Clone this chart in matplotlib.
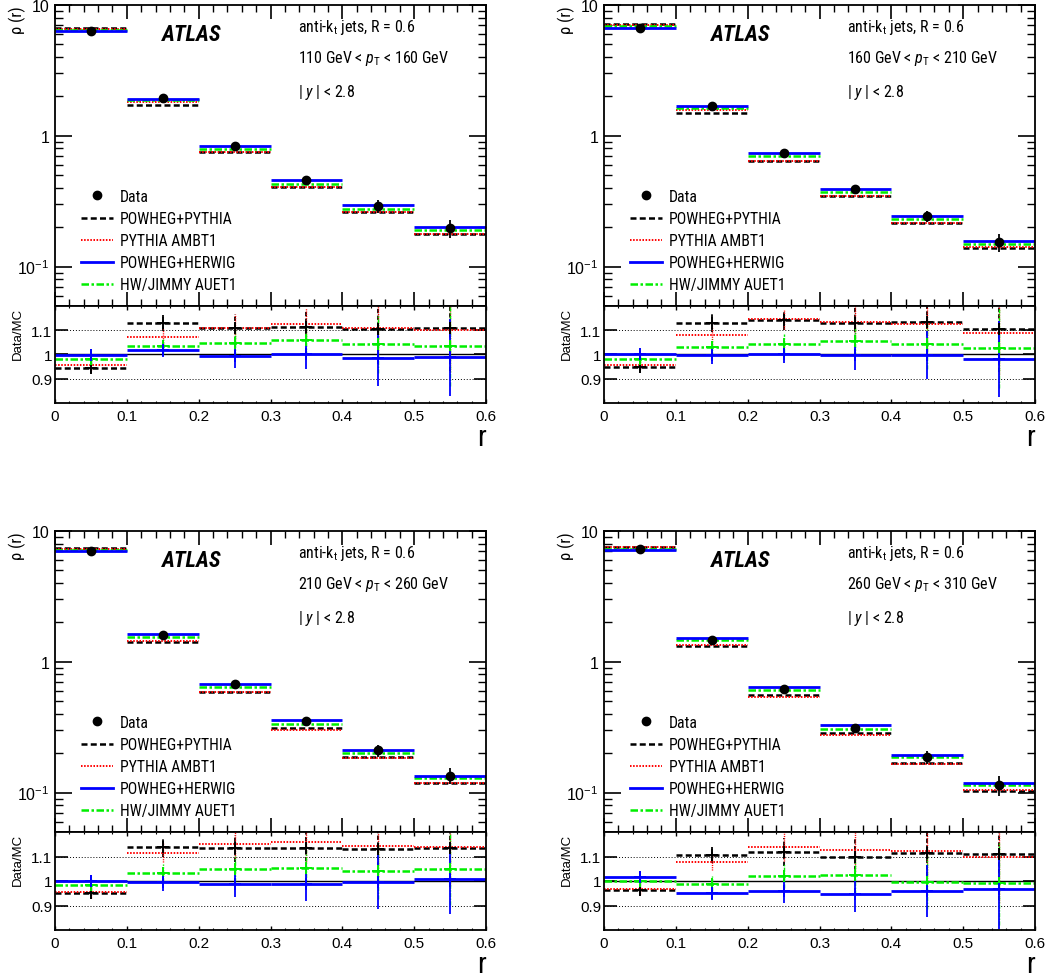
import matplotlib
matplotlib.use("Agg")
import numpy as np
import matplotlib.pyplot as plt
from matplotlib import font_manager
from matplotlib.lines import Line2D
from matplotlib.ticker import (FixedLocator, FixedFormatter, MultipleLocator,
                               LogLocator, NullFormatter)

# ---------------------------------------------------------------- data
bin_edges = [0.0, 0.1, 0.2, 0.3, 0.4, 0.5, 0.6]

pt_labels = [
    "110 GeV < $p_{\\mathrm{T}}$ < 160 GeV",
    "160 GeV < $p_{\\mathrm{T}}$ < 210 GeV",
    "210 GeV < $p_{\\mathrm{T}}$ < 260 GeV",
    "260 GeV < $p_{\\mathrm{T}}$ < 310 GeV",
]

# measured differential jet shape rho(r), one row per pT bin
data_rho = [
    [6.30, 1.94, 0.830, 0.456, 0.290, 0.197],
    [6.72, 1.69, 0.738, 0.392, 0.243, 0.153],
    [7.00, 1.61, 0.671, 0.352, 0.210, 0.135],
    [7.33, 1.46, 0.618, 0.313, 0.186, 0.114],
]

# relative total uncertainty on the data
data_relerr = [
    [0.023, 0.030, 0.050, 0.060, 0.115, 0.160],
    [0.016, 0.035, 0.037, 0.060, 0.100, 0.160],
    [0.025, 0.035, 0.050, 0.070, 0.110, 0.140],
    [0.020, 0.030, 0.050, 0.075, 0.110, 0.170],
]

# Data/MC ratios for each generator
ratio_powheg_pythia = [
    [0.944, 1.129, 1.111, 1.113, 1.105, 1.111],
    [0.947, 1.131, 1.143, 1.131, 1.136, 1.107],
    [0.951, 1.137, 1.133, 1.133, 1.130, 1.133],
    [0.964, 1.105, 1.118, 1.097, 1.114, 1.111],
]
ratio_pythia_ambt1 = [
    [0.957, 1.072, 1.111, 1.124, 1.111, 1.103],
    [0.956, 1.081, 1.146, 1.136, 1.127, 1.088],
    [0.955, 1.115, 1.151, 1.160, 1.144, 1.137],
    [0.966, 1.078, 1.140, 1.127, 1.122, 1.096],
]
ratio_powheg_herwig = [
    [0.999, 1.019, 0.993, 1.001, 0.984, 0.988],
    [1.000, 0.996, 1.000, 0.996, 0.999, 0.982],
    [1.000, 0.995, 0.986, 0.986, 0.995, 1.008],
    [1.018, 0.953, 0.960, 0.945, 0.958, 0.968],
]
ratio_herwig_jimmy = [
    [0.980, 1.033, 1.048, 1.060, 1.044, 1.035],
    [0.981, 1.029, 1.045, 1.057, 1.044, 1.026],
    [0.982, 1.034, 1.048, 1.053, 1.041, 1.047],
    [1.000, 0.989, 1.021, 1.023, 0.995, 0.990],
]

mc_names = ["POWHEG+PYTHIA", "PYTHIA AMBT1", "POWHEG+HERWIG", "HW/JIMMY AUET1"]
mc_ratios = [ratio_powheg_pythia, ratio_pythia_ambt1,
             ratio_powheg_herwig, ratio_herwig_jimmy]

# ---------------------------------------------------------------- fonts
def _font_available(name):
    try:
        font_manager.findfont(font_manager.FontProperties(family=name),
                              fallback_to_default=False)
        return True
    except ValueError:
        return False

SANS = "Liberation Sans"
NARROW = SANS
for cand in ("Liberation Sans Narrow", "Arial Narrow", "Roboto Condensed"):
    if _font_available(cand):
        NARROW = cand
        break
# a regular-width face needs smaller sizes to keep the same text widths
tscale = 1.0 if NARROW != SANS else 0.85

plt.rcParams.update({
    "font.family": [SANS, "DejaVu Sans"],
    "mathtext.fontset": "custom",
    "mathtext.rm": NARROW,
    "mathtext.it": NARROW + ":italic",
    "mathtext.bf": NARROW + ":bold",
    "axes.linewidth": 1.3,
})

# ---------------------------------------------------------------- styles
mc_styles = [
    dict(color="black", ls=(0, (2.4, 1.3)), lw=1.8, marker="+", elw=1.3),
    dict(color="red", ls=(0, (0.8, 0.8)), lw=1.4, marker="none", elw=1.0),
    dict(color="blue", ls="-", lw=2.0, marker="+", elw=1.3),
    dict(color="#00ee00", ls=(0, (3.0, 1.0, 1.0, 1.0)), lw=1.8, marker="+",
         elw=1.0),
]
draw_order = [0, 1, 3, 2]

W, H = 1047, 979
fig = plt.figure(figsize=(W / 100, H / 100), dpi=100)


def rect(x0, x1, y0, y1):
    return [x0 / W, 1 - y1 / H, (x1 - x0) / W, (y1 - y0) / H]


col_left = [55, 604]
panel_w = 431
main_rows = [(6, 307), (532, 833)]
ratio_rows = [(307, 404), (833, 931)]

edges = np.array(bin_edges)
lo, hi = edges[:-1], edges[1:]
centers = 0.5 * (lo + hi)

ann_fs = 11.5 * tscale
leg_fs = 11.3 * tscale
atlas_fs = 16 * tscale
leg_fs_px = leg_fs * 100 / 72
leg_spacing = 22.0 / leg_fs_px - 0.95
leg_handle = 32.0 / leg_fs_px
leg_pad = 7.0 / leg_fs_px

for ip in range(4):
    row, col = divmod(ip, 2)
    x0 = col_left[col]
    axm = fig.add_axes(rect(x0, x0 + panel_w, *main_rows[row]))
    axr = fig.add_axes(rect(x0, x0 + panel_w, *ratio_rows[row]))

    rho = np.array(data_rho[ip])
    rerr = np.array(data_relerr[ip])

    # ---- main panel: MC predictions as per-bin horizontal segments
    for k in draw_order:
        st = mc_styles[k]
        pred = rho / np.array(mc_ratios[k][ip])
        for a, b, v in zip(lo, hi, pred):
            axm.plot([a, b], [v, v], color=st["color"], ls=st["ls"],
                     lw=st["lw"], solid_capstyle="butt", dash_capstyle="butt")
    axm.errorbar(centers, rho, yerr=rho * rerr, fmt="o", color="black",
                 ms=6, elinewidth=1.3, capsize=0, zorder=5)

    axm.set_yscale("log")
    axm.set_xlim(0, 0.6)
    axm.set_ylim(0.05, 10)
    axm.yaxis.set_major_locator(FixedLocator([0.1, 1, 10]))
    axm.yaxis.set_major_formatter(
        FixedFormatter([r"$\mathdefault{10^{-1}}$", "1", "10"]))
    axm.yaxis.set_minor_locator(LogLocator(base=10, subs=np.arange(2, 10)))
    axm.yaxis.set_minor_formatter(NullFormatter())
    axm.xaxis.set_major_locator(MultipleLocator(0.1))
    axm.xaxis.set_minor_locator(MultipleLocator(0.02))
    axm.tick_params(which="both", direction="in", top=True, right=True,
                    labelbottom=False)
    axm.tick_params(axis="y", which="major", length=12, width=1.2,
                    labelsize=11.5, pad=4)
    axm.tick_params(axis="y", which="minor", length=6, width=1.0)
    axm.tick_params(axis="x", which="major", length=10, width=1.2)
    axm.tick_params(axis="x", which="minor", length=5, width=1.0)

    axm.text(-0.087, 1.0, "ρ (r)", rotation=90, ha="center", va="top",
             transform=axm.transAxes, fontsize=12 * tscale,
             family=[NARROW, "DejaVu Sans"])

    axm.text(0.317, 0.904, "ATLAS", transform=axm.transAxes, ha="center",
             va="center", fontsize=atlas_fs, fontweight="bold",
             fontstyle="italic", family=NARROW)
    axm.text(0.564, 0.930, r"anti-k$_{\mathrm{t}}$ jets, R = 0.6",
             transform=axm.transAxes, ha="left", va="center", fontsize=ann_fs,
             family=NARROW)
    axm.text(0.564, 0.824, pt_labels[ip], transform=axm.transAxes,
             ha="left", va="center", fontsize=ann_fs, family=NARROW)
    axm.text(0.564, 0.714, r"| $y$ | < 2.8", transform=axm.transAxes,
             ha="left", va="center", fontsize=ann_fs, family=NARROW)

    handles = [Line2D([], [], marker="o", ls="none", color="black", ms=6)]
    for k in range(4):
        st = mc_styles[k]
        handles.append(Line2D([], [], color=st["color"], ls=st["ls"],
                              lw=st["lw"]))
    axm.legend(handles, ["Data"] + mc_names, loc="upper left",
               bbox_to_anchor=(0.06, 0.389), frameon=False,
               prop=dict(family=NARROW, size=leg_fs), handlelength=leg_handle,
               handletextpad=leg_pad, labelspacing=leg_spacing, borderpad=0,
               borderaxespad=0)

    # ---- ratio panel
    axr.axhline(1.0, color="black", lw=1.0, zorder=1)
    for ref in (0.9, 1.1):
        axr.axhline(ref, color="black", lw=0.7, ls=(0, (1, 2)), zorder=1)
    for k in draw_order:
        st = mc_styles[k]
        rat = np.array(mc_ratios[k][ip])
        for a, b, v in zip(lo, hi, rat):
            axr.plot([a, b], [v, v], color=st["color"], ls=st["ls"],
                     lw=st["lw"], solid_capstyle="butt", dash_capstyle="butt")
        eb = axr.errorbar(centers, rat, yerr=rat * rerr, ls="none",
                          marker=st["marker"], color=st["color"], ms=8,
                          mew=1.4, elinewidth=st["elw"], capsize=0)
        eb[2][0].set_linestyle(st["ls"])

    axr.set_xlim(0, 0.6)
    axr.set_ylim(0.8, 1.2)
    axr.yaxis.set_major_locator(FixedLocator([0.9, 1.0, 1.1]))
    axr.yaxis.set_major_formatter(FixedFormatter(["0.9", "1", "1.1"]))
    axr.xaxis.set_major_locator(FixedLocator(bin_edges))
    axr.xaxis.set_major_formatter(
        FixedFormatter(["0", "0.1", "0.2", "0.3", "0.4", "0.5", "0.6"]))
    axr.xaxis.set_minor_locator(MultipleLocator(0.02))
    axr.tick_params(which="both", direction="in", top=True, right=True)
    axr.tick_params(axis="y", which="major", length=9, width=1.2,
                    labelsize=11, pad=2)
    axr.tick_params(axis="x", which="major", length=3, width=1.0,
                    labelsize=11, pad=4)
    axr.tick_params(axis="x", which="minor", length=1.5, width=0.8)

    axr.text(-0.087, 0.99, "Data/MC", rotation=90, ha="center", va="top",
             transform=axr.transAxes, fontsize=9.5, family=SANS)
    axr.text(1.0, -0.35, "r", transform=axr.transAxes, ha="right",
             va="center", fontsize=21 * tscale, family=NARROW)

fig.savefig("out.png", dpi=100)
